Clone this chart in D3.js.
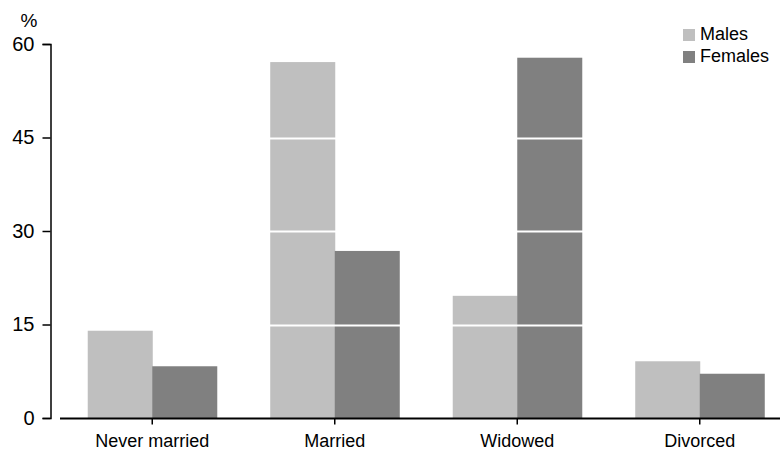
<!DOCTYPE html>
<html><head><meta charset="utf-8">
<script src="https://cdn.jsdelivr.net/npm/d3@7"></script>
<style>body{margin:0;background:#fff}svg{display:block}text{font-family:"Liberation Sans",Arial,sans-serif;fill:#000}</style>
</head><body><svg id="c" width="780" height="450"></svg>
<script>
const categories = ["Never married","Married","Widowed","Divorced"];
const seriesNames = ["Males","Females"];
const males = [14.0, 57.1, 19.6, 9.1];
const females = [8.3, 26.8, 57.8, 7.1];
const yTicks = [0,15,30,45,60];
const colors = ["#bfbfbf","#808080"];

const svg = d3.select("#c");
const x = d3.scaleBand().domain(categories).range([61,791]).paddingInner(0.293).paddingOuter(0.1465);
const xs = d3.scaleBand().domain(seriesNames).range([0, x.bandwidth()]);
const y = d3.scaleLinear().domain([0,60]).range([418,44]);
const data = [males, females];

seriesNames.forEach((s, si) => {
  svg.append("g").selectAll("rect").data(categories).join("rect")
    .attr("x", d => x(d) + xs(s))
    .attr("width", xs.bandwidth()+0.5)
    .attr("y", (d,i) => y(data[si][i]))
    .attr("height", (d,i) => y(0) - y(data[si][i]))
    .attr("fill", colors[si]);
});

// white gridlines over bars
svg.append("g").selectAll("line").data(yTicks.filter(t => t>0 && t<60)).join("line")
  .attr("x1", 60).attr("x2", 780)
  .attr("y1", d => Math.round(y(d))+0.5).attr("y2", d => Math.round(y(d))+0.5)
  .attr("stroke", "#fff").attr("stroke-width", 2);

// y axis
const ya = svg.append("g").attr("transform","translate(50.5,0)")
  .call(d3.axisLeft(y).tickValues(yTicks).tickSize(8).tickPadding(8));
ya.select(".domain").attr("stroke","#000").attr("stroke-width",1.5);
ya.selectAll(".tick line").attr("stroke","#000").attr("stroke-width",1.5);
ya.selectAll(".tick text").style("font-size","20px").attr("fill","#000");

// x axis
const xa = svg.append("g").attr("transform","translate(0,418.5)")
  .call(d3.axisBottom(x).tickSize(6).tickPadding(10).tickSizeOuter(0));
xa.select(".domain").attr("d","M60,0H780").attr("stroke","#000").attr("stroke-width",2);
xa.selectAll(".tick line").attr("stroke","#000").attr("stroke-width",1.5);
xa.selectAll(".tick text").style("font-size","18px").attr("fill","#000");

svg.append("text").attr("x", 29).attr("y", 27).attr("text-anchor","middle").style("font-size","19px").text("%");

// legend
const lg = svg.append("g");
seriesNames.forEach((s,i) => {
  lg.append("rect").attr("x",683).attr("y",29+i*22).attr("width",12).attr("height",12).attr("fill",colors[i]);
  lg.append("text").attr("x",700).attr("y",40+i*22).style("font-size","18px").text(s);
});
</script></body></html>
